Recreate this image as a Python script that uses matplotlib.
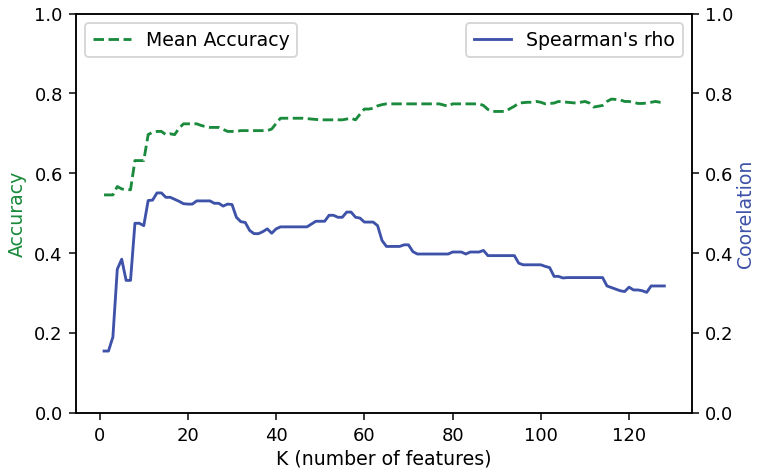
import matplotlib
matplotlib.use("Agg")
import matplotlib.pyplot as plt
import numpy as np

k = list(range(1, 129))

mean_accuracy = [
    0.546, 0.546, 0.546, 0.567, 0.561, 0.559, 0.559, 0.632, 0.632, 0.632,
    0.697, 0.703, 0.705, 0.705, 0.697, 0.699, 0.697, 0.713, 0.724, 0.724,
    0.724, 0.724, 0.720, 0.717, 0.715, 0.715, 0.715, 0.710, 0.705, 0.705,
    0.705, 0.707, 0.707, 0.707, 0.707, 0.707, 0.707, 0.707, 0.711, 0.725,
    0.738, 0.738, 0.738, 0.738, 0.738, 0.738, 0.737, 0.736, 0.735, 0.734,
    0.734, 0.734, 0.734, 0.734, 0.734, 0.736, 0.738, 0.734, 0.748, 0.761,
    0.761, 0.763, 0.769, 0.772, 0.774, 0.774, 0.774, 0.774, 0.774, 0.774,
    0.774, 0.774, 0.774, 0.774, 0.774, 0.774, 0.774, 0.771, 0.768, 0.774,
    0.774, 0.774, 0.774, 0.774, 0.774, 0.774, 0.770, 0.760, 0.755, 0.755,
    0.755, 0.755, 0.762, 0.768, 0.776, 0.777, 0.778, 0.778, 0.780, 0.778,
    0.774, 0.775, 0.776, 0.780, 0.779, 0.778, 0.777, 0.776, 0.778, 0.780,
    0.776, 0.766, 0.768, 0.770, 0.780, 0.786, 0.785, 0.784, 0.780, 0.780,
    0.778, 0.775, 0.775, 0.776, 0.778, 0.780, 0.778, 0.778,
]

spearman_rho = [
    0.155, 0.155, 0.190, 0.360, 0.385, 0.332, 0.332, 0.475, 0.475, 0.469,
    0.532, 0.533, 0.551, 0.551, 0.540, 0.540, 0.535, 0.530, 0.524, 0.523,
    0.523, 0.531, 0.531, 0.531, 0.531, 0.525, 0.525, 0.518, 0.523, 0.522,
    0.490, 0.479, 0.477, 0.457, 0.449, 0.449, 0.454, 0.461, 0.450, 0.461,
    0.466, 0.466, 0.466, 0.466, 0.466, 0.466, 0.466, 0.473, 0.480, 0.480,
    0.480, 0.495, 0.495, 0.490, 0.490, 0.503, 0.503, 0.490, 0.488, 0.478,
    0.478, 0.478, 0.469, 0.432, 0.417, 0.417, 0.417, 0.417, 0.421, 0.421,
    0.404, 0.398, 0.398, 0.398, 0.398, 0.398, 0.398, 0.398, 0.398, 0.403,
    0.403, 0.403, 0.398, 0.403, 0.403, 0.403, 0.407, 0.394, 0.394, 0.394,
    0.394, 0.394, 0.394, 0.394, 0.375, 0.371, 0.371, 0.371, 0.371, 0.371,
    0.367, 0.364, 0.342, 0.342, 0.338, 0.339, 0.339, 0.339, 0.339, 0.339,
    0.339, 0.339, 0.339, 0.339, 0.318, 0.314, 0.310, 0.306, 0.304, 0.315,
    0.308, 0.308, 0.306, 0.302, 0.318, 0.318, 0.318, 0.318,
]

green = "#1a8a3c"
blue = "#3d52a8"

DPI = 136
fig = plt.figure(figsize=(757.4 / DPI, 470.4 / DPI), dpi=DPI)
W, H = 757.0, 470.0
ax = fig.add_axes([76 / W, 1 - 413 / H, (692 - 76) / W, (413 - 14) / H])
ax2 = ax.twinx()

l1, = ax.plot(k, mean_accuracy, color=green, linestyle="--", linewidth=1.5, label="Mean Accuracy")
l2, = ax2.plot(k, spearman_rho, color=blue, linestyle="-", linewidth=1.5, label="Spearman's rho")

ax.set_ylim(0, 1.0)
ax2.set_ylim(0, 1.0)
yt = [0.0, 0.2, 0.4, 0.6, 0.8, 1.0]
ax.set_yticks(yt)
ax2.set_yticks(yt)
ax.set_xticks([0, 20, 40, 60, 80, 100, 120])

ax.tick_params(labelsize=9.5)
ax2.tick_params(labelsize=9.5, pad=3)
ax.set_xlabel("K (number of features)", fontsize=10, labelpad=2.5)
ax.set_ylabel("Accuracy", color=green, fontsize=10)
ax2.set_ylabel("Coorelation", color=blue, fontsize=10, labelpad=1.5)

ax.legend(handles=[l1], loc="upper left", fontsize=10)
ax2.legend(handles=[l2], loc="upper right", fontsize=10)

fig.savefig("out.png", dpi=DPI)
